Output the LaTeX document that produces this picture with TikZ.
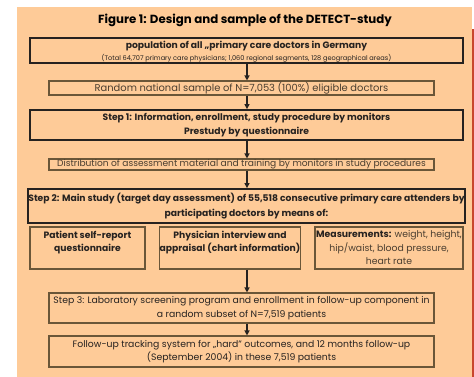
\documentclass[tikz,border=0pt]{standalone}
\usepackage{fontspec}
\setmainfont{Poppins}
\usetikzlibrary{arrows.meta}
\definecolor{peach}{HTML}{FECB98}
\definecolor{darkline}{HTML}{262220}
\definecolor{brownline}{HTML}{6A5638}
\definecolor{softtext}{HTML}{4A3E30}
\definecolor{redline}{HTML}{C8462E}
\begin{document}
\begin{tikzpicture}[x=1pt,y=-1pt,
  bigbox/.style={draw=darkline,line width=1.8pt,align=center,inner sep=0pt,text=darkline},
  thinbox/.style={draw=brownline,line width=1.1pt,align=center,inner sep=0pt,text=softtext},
  midbox/.style={draw=brownline,line width=1.1pt,align=center,inner sep=0pt,text=darkline},
  flow/.style={draw=darkline,line width=1.2pt,-{Triangle[length=5pt,width=5pt]}},
  boldfont/.style={font=\fontsize{9.2}{13.5}\selectfont\bfseries},
  regfont/.style={font=\fontsize{9.3}{13.5}\selectfont}]
\useasboundingbox (0,0) rectangle (474,377);
\fill[peach] (17,7) rectangle (472,377);
\fill[redline] (472,29) rectangle (474,377);
\node[font=\fontsize{11.8}{14}\selectfont\bfseries,text=black] (title) at (245,20) {Figure 1: Design and sample of the DETECT-study};
\coordinate (ax) at (247,0);
\node[bigbox,minimum width=433pt,minimum height=25pt] (b1) at (246.5,50.5) {};
\node[align=center,inner sep=0pt,text=darkline] (b1t) at (246.5,52)
  {{\fontsize{9.2}{10}\selectfont\bfseries population of all „primary care doctors in Germany}\\[0pt]
   {\fontsize{6.6}{7}\selectfont (Total 64,707 primary care physicians; 1,060 regional segments, 128 geographical areas)}};
\node[thinbox,font=\fontsize{9.9}{12}\selectfont,minimum width=385pt,minimum height=14pt] (b2) at (241.5,88)
  {Random national sample of N=7,053 (100\%) eligible doctors};
\node[bigbox,boldfont,minimum width=433pt,minimum height=30pt] (b3) at (246.5,125)
  {Step 1: Information, enrollment, study procedure by monitors\\Prestudy by questionnaire};
\node[thinbox,font=\fontsize{9.1}{12}\selectfont,minimum width=385pt,minimum height=11pt] (b4) at (241.5,164.5)
  {Distribution of assessment material and training by monitors in study procedures};
\node[bigbox,font=\fontsize{9.2}{15}\selectfont\bfseries,minimum width=433pt,minimum height=34pt] (b5) at (246.5,206)
  {Step 2: Main study (target day assessment) of 55,518 consecutive primary care attenders by\\participating doctors by means of:};
\node[midbox,boldfont,minimum width=115pt,minimum height=42pt] (b6a) at (87.5,248)
  {Patient self-report\\questionnaire\\\mbox{}};
\node[midbox,boldfont,minimum width=136pt,minimum height=42pt] (b6b) at (230,248)
  {Physician interview and\\appraisal (chart information)\\\mbox{}};
\node[midbox,regfont,text=softtext,minimum width=148pt,minimum height=42pt] (b6c) at (389,248)
  {{\bfseries\color{darkline}Measurements:} weight, height,\\hip/waist, blood pressure,\\heart rate};
\node[midbox,regfont,minimum width=385pt,minimum height=30pt] (b7) at (241.5,308)
  {Step 3: Laboratory screening program and enrollment in follow-up component in\\a random subset of N=7,519 patients};
\node[midbox,regfont,minimum width=385pt,minimum height=31pt] (b8) at (241.5,351.5)
  {Follow-up tracking system for „hard" outcomes, and 12 months follow-up\\(September 2004) in these 7,519 patients};
\draw[flow] (b1.south -| ax) -- (b2.north -| ax);
\draw[flow] (b2.south -| ax) -- (b3.north -| ax);
\draw[flow] (b3.south -| ax) -- (b4.north -| ax);
\draw[flow] (b4.south -| ax) -- (b5.north -| ax);
\draw[flow] (b6b.south -| ax) -- (b7.north -| ax);
\draw[flow] (b7.south -| ax) -- (b8.north -| ax);
\end{tikzpicture}
\end{document}
